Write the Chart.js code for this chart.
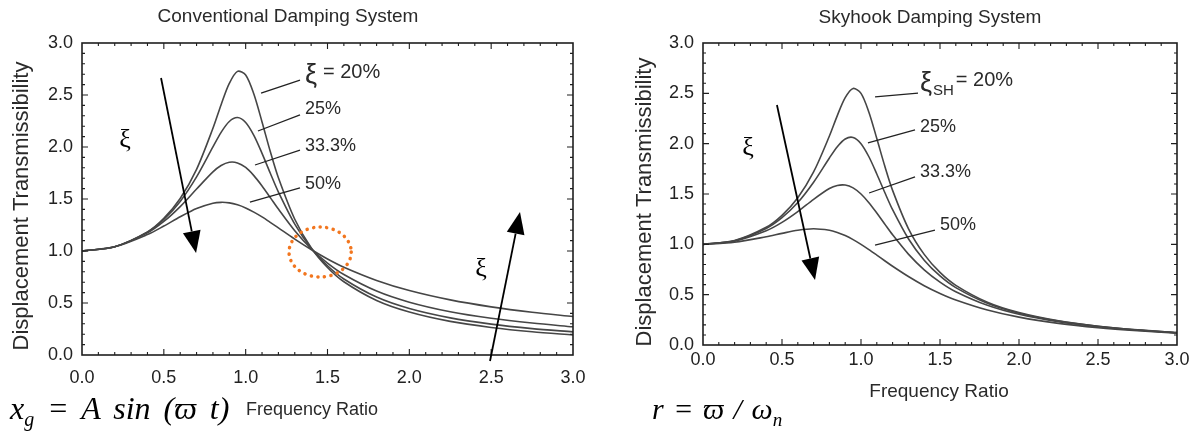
<!DOCTYPE html>
<html>
<head>
<meta charset="utf-8">
<title>Displacement transmissibility</title>
<script src="https://cdn.jsdelivr.net/npm/chart.js@4.4.1/dist/chart.umd.min.js"></script>
<style>
  html, body { margin: 0; padding: 0; background: #fff; }
  #page { position: relative; width: 1199px; height: 432px; overflow: hidden; background: #fff; }
  .panel { position: absolute; top: 0; height: 432px; }
  .eq { position: absolute; font-family: "Liberation Serif", "Times New Roman", serif; font-style: italic;
        color: #000; white-space: pre; }
  .eq sub { vertical-align: -7px; line-height: 0; }
  #eqInput { font-size: 32px; line-height: 32px; word-spacing: 5px; }
  #eqInput sub { font-size: 20px; }
  #eqRatio { font-size: 30px; line-height: 30px; word-spacing: 2px; }
  #eqRatio sub { font-size: 19px; }
</style>
</head>
<body>
<div id="page">
  <div class="panel" style="left:0;width:620px"><canvas id="conventional" width="620" height="432"></canvas></div>
  <div class="panel" style="left:600px;width:599px"><canvas id="skyhook" width="599" height="432"></canvas></div>
  <div class="eq" id="eqInput" style="left:10px;top:392px">x<sub>g</sub> = A sin (ϖ t)</div>
  <div class="eq" id="eqRatio" style="left:652px;top:394px">r = ϖ / ω<sub>n</sub></div>
</div>
<script>
const FONT = '"Liberation Sans", Arial, Helvetica, sans-serif';
const SERIF = '"Liberation Serif", "Times New Roman", serif';

// frequency ratio r = ϖ / ωn
const ratios = [0, 0.2, 0.4, 0.5, 0.6, 0.7, 0.8, 0.85, 0.9, 0.95, 1.0, 1.05, 1.1, 1.15, 1.2,
                1.3, 1.4, 1.5, 1.6, 1.8, 2.0, 2.25, 2.5, 2.75, 3.0];
const axisTicks = [0, 0.5, 1.0, 1.5, 2.0, 2.5, 3.0];
const dampingLabels = ['20%', '25%', '33.3%', '50%'];

// conventional damper, displacement transmissibility
const conv20 = [1.000, 1.041, 1.184, 1.314, 1.505, 1.785, 2.180, 2.407, 2.611, 2.727, 2.693, 2.509, 2.241, 1.959, 1.704,
                1.305, 1.031, 0.841, 0.704, 0.524, 0.413, 0.323, 0.265, 0.223, 0.193];
const conv25 = [1.000, 1.041, 1.181, 1.304, 1.477, 1.713, 2.001, 2.141, 2.245, 2.283, 2.236, 2.112, 1.939, 1.750, 1.567,
                1.258, 1.027, 0.858, 0.731, 0.557, 0.447, 0.357, 0.297, 0.254, 0.222];
const conv33 = [1.000, 1.041, 1.174, 1.284, 1.427, 1.596, 1.761, 1.822, 1.853, 1.847, 1.803, 1.725, 1.626, 1.515, 1.403,
                1.195, 1.022, 0.884, 0.774, 0.615, 0.508, 0.416, 0.353, 0.307, 0.271];
const conv50 = [1.000, 1.040, 1.158, 1.240, 1.329, 1.409, 1.460, 1.468, 1.463, 1.444, 1.414, 1.374, 1.328, 1.276, 1.222,
                1.114, 1.014, 0.923, 0.844, 0.717, 0.620, 0.530, 0.463, 0.411, 0.370];

// skyhook damper
const sky20 = [1.000, 1.038, 1.169, 1.288, 1.463, 1.719, 2.076, 2.279, 2.457, 2.549, 2.500, 2.313, 2.051, 1.780, 1.536,
               1.157, 0.900, 0.721, 0.593, 0.425, 0.322, 0.240, 0.187, 0.150, 0.124];
const sky25 = [1.000, 1.036, 1.158, 1.265, 1.415, 1.617, 1.858, 1.970, 2.047, 2.062, 2.000, 1.870, 1.699, 1.517, 1.344,
               1.055, 0.842, 0.686, 0.570, 0.414, 0.316, 0.237, 0.185, 0.149, 0.123];
const sky33 = [1.000, 1.032, 1.135, 1.218, 1.325, 1.447, 1.554, 1.585, 1.589, 1.561, 1.500, 1.414, 1.311, 1.202, 1.095,
               0.903, 0.747, 0.625, 0.529, 0.394, 0.305, 0.231, 0.182, 0.147, 0.121];
const sky50 = [1.000, 1.020, 1.075, 1.109, 1.140, 1.155, 1.140, 1.118, 1.087, 1.047, 1.000, 0.948, 0.893, 0.837, 0.782,
               0.680, 0.589, 0.512, 0.448, 0.348, 0.277, 0.215, 0.172, 0.141, 0.117];

// frame, headings, axis titles, curve labels, arrows and ξ marks
const overlay = {
  id: 'overlay',
  afterDatasetsDraw(chart, args, o) {
    const { ctx, chartArea: a } = chart;
    const X = (v) => chart.scales.x.getPixelForValue(v);
    const Y = (v) => chart.scales.y.getPixelForValue(v);
    ctx.save();

    ctx.strokeStyle = '#1e1e1e';
    ctx.lineWidth = 1.6;
    ctx.strokeRect(a.left, a.top, a.right - a.left, a.bottom - a.top);
    ctx.lineWidth = 1.1;
    ctx.beginPath();
    for (let i = 1; i < 30; i++) {
      const v = i / 10;
      const len = i % 5 ? 3 : 6;
      ctx.moveTo(X(v), a.bottom); ctx.lineTo(X(v), a.bottom - len);
      ctx.moveTo(X(v), a.top); ctx.lineTo(X(v), a.top + len);
      ctx.moveTo(a.left, Y(v)); ctx.lineTo(a.left + len, Y(v));
      ctx.moveTo(a.right, Y(v)); ctx.lineTo(a.right - len, Y(v));
    }
    ctx.stroke();

    // texts around the plot
    ctx.fillStyle = '#2a2a2a';
    ctx.textAlign = 'center';
    ctx.textBaseline = 'middle';
    const [hText, hx, hy, hs] = o.heading;
    ctx.font = `${hs}px ${FONT}`;
    ctx.fillText(hText, hx, hy);
    const [xx, xy, xs] = o.xTitle;
    ctx.font = `${xs}px ${FONT}`;
    ctx.fillText('Frequency Ratio', xx, xy);
    const [yx, yy, ys] = o.yTitle;
    ctx.save();
    ctx.translate(yx, yy);
    ctx.rotate(-Math.PI / 2);
    ctx.font = `${ys}px ${FONT}`;
    ctx.fillText('Displacement Transmissibility', 0, 0);
    ctx.restore();

    // damping labels with leader lines
    ctx.textAlign = 'left';
    ctx.lineWidth = 1.3;
    ctx.strokeStyle = '#222';
    o.tags.forEach((t, i) => {
      ctx.beginPath();
      ctx.moveTo(X(t.lead[0]), Y(t.lead[1]));
      ctx.lineTo(X(t.lead[2]), Y(t.lead[3]));
      ctx.stroke();
      let tx = X(t.at[0]);
      const ty = Y(t.at[1]);
      if (i === 0) {
        ctx.font = `27px ${FONT}`;
        ctx.fillText('ξ', tx, ty + 4);
        tx += ctx.measureText('ξ').width + 1;
        if (o.sub) {
          ctx.font = `15px ${FONT}`;
          ctx.fillText(o.sub, tx, ty + 11);
          tx += ctx.measureText(o.sub).width + 2;
        } else {
          tx += 5;
        }
        ctx.font = `20px ${FONT}`;
        ctx.fillText(`= ${dampingLabels[i]}`, tx, ty);
      } else {
        ctx.font = `18px ${FONT}`;
        ctx.fillText(dampingLabels[i], tx, ty);
      }
    });

    ctx.strokeStyle = '#000';
    ctx.fillStyle = '#000';
    o.arrows.forEach(([x1, y1, x2, y2]) => {
      const ax = X(x1), ay = Y(y1), bx = X(x2), by = Y(y2);
      const ang = Math.atan2(by - ay, bx - ax);
      const c = Math.cos(ang), s = Math.sin(ang);
      const hl = 22, hw = 9;
      ctx.lineWidth = 1.8;
      ctx.beginPath();
      ctx.moveTo(ax, ay);
      ctx.lineTo(bx - hl * c, by - hl * s);
      ctx.stroke();
      ctx.beginPath();
      ctx.moveTo(bx, by);
      ctx.lineTo(bx - hl * c + hw * s, by - hl * s - hw * c);
      ctx.lineTo(bx - hl * c - hw * s, by - hl * s + hw * c);
      ctx.closePath();
      ctx.fill();
    });

    ctx.font = `26px ${SERIF}`;
    ctx.textAlign = 'center';
    o.xi.forEach(([x, y]) => ctx.fillText('ξ', X(x), Y(y)));

    if (o.ring) {
      const [cx, cy, rx, ry] = o.ring;
      ctx.strokeStyle = '#f2761f';
      ctx.lineWidth = 3.5;
      ctx.lineCap = 'round';
      ctx.setLineDash([0.1, 6.5]);
      ctx.beginPath();
      ctx.ellipse(X(cx), Y(cy), X(cx + rx) - X(cx), Y(cy - ry) - Y(cy), 0, 0, Math.PI * 2);
      ctx.stroke();
    }
    ctx.restore();
  }
};

function makeChart(id, series, box, notes) {
  const tickFont = { family: FONT, size: 18 };
  return new Chart(document.getElementById(id), {
    type: 'line',
    data: {
      datasets: series.map((vals) => ({
        data: ratios.map((r, k) => ({ x: r, y: vals[k] })),
        borderColor: '#464646',
        borderWidth: 1.6,
        pointRadius: 0,
        fill: false,
        tension: 0.3,
      })),
    },
    options: {
      responsive: false,
      animation: false,
      layout: { padding: { top: 43, right: box.right, left: 0, bottom: 0 } },
      plugins: { legend: { display: false }, tooltip: { enabled: false }, overlay: notes },
      scales: {
        x: {
          type: 'linear', min: 0, max: 3,
          border: { display: false },
          grid: { display: false, drawTicks: false },
          afterBuildTicks: (s) => { s.ticks = axisTicks.map((v) => ({ value: v })); },
          ticks: { font: tickFont, color: '#222', padding: box.xPad, callback: (v) => v.toFixed(1) },
          afterFit: (s) => { s.height = box.xHeight; },
        },
        y: {
          min: 0, max: 3,
          border: { display: false },
          grid: { display: false, drawTicks: false },
          afterBuildTicks: (s) => { s.ticks = axisTicks.map((v) => ({ value: v })); },
          ticks: { font: tickFont, color: '#222', padding: 9, callback: (v) => v.toFixed(1) },
          afterFit: (s) => { s.width = box.yWidth; },
        },
      },
    },
    plugins: [overlay],
  });
}

makeChart('conventional', [conv20, conv25, conv33, conv50],
  { right: 47, yWidth: 82, xHeight: 77, xPad: 12 },
  {
    heading: ['Conventional Damping System', 288, 17, 19],
    xTitle: [312, 410, 18],
    yTitle: [22, 206, 22],
    tags: [
      { at: [1.362, 2.721], lead: [1.332, 2.644, 1.094, 2.519] },
      { at: [1.362, 2.365], lead: [1.332, 2.308, 1.075, 2.154] },
      { at: [1.362, 2.010], lead: [1.332, 1.971, 1.057, 1.827] },
      { at: [1.362, 1.644], lead: [1.332, 1.606, 1.026, 1.471] },
    ],
    arrows: [[0.483, 2.663, 0.697, 0.981], [2.493, -0.058, 2.676, 1.375]],
    xi: [[0.263, 2.067], [2.438, 0.827]],
    ring: [1.455, 0.99, 0.19, 0.24],
  });

makeChart('skyhook', [sky20, sky25, sky33, sky50],
  { right: 22, yWidth: 103, xHeight: 87, xPad: 4 },
  {
    heading: ['Skyhook Damping System', 330, 18, 19],
    xTitle: [339, 392, 19],
    yTitle: [45, 202, 22],
    sub: 'SH',
    tags: [
      { at: [1.373, 2.632], lead: [1.361, 2.503, 1.089, 2.464] },
      { at: [1.373, 2.165], lead: [1.342, 2.136, 1.044, 2.007] },
      { at: [1.373, 1.718], lead: [1.342, 1.669, 1.051, 1.510] },
      { at: [1.500, 1.192], lead: [1.468, 1.142, 1.089, 0.993] },
    ],
    arrows: [[0.468, 2.384, 0.709, 0.646]],
    xi: [[0.285, 1.957]],
  });
</script>
</body>
</html>
